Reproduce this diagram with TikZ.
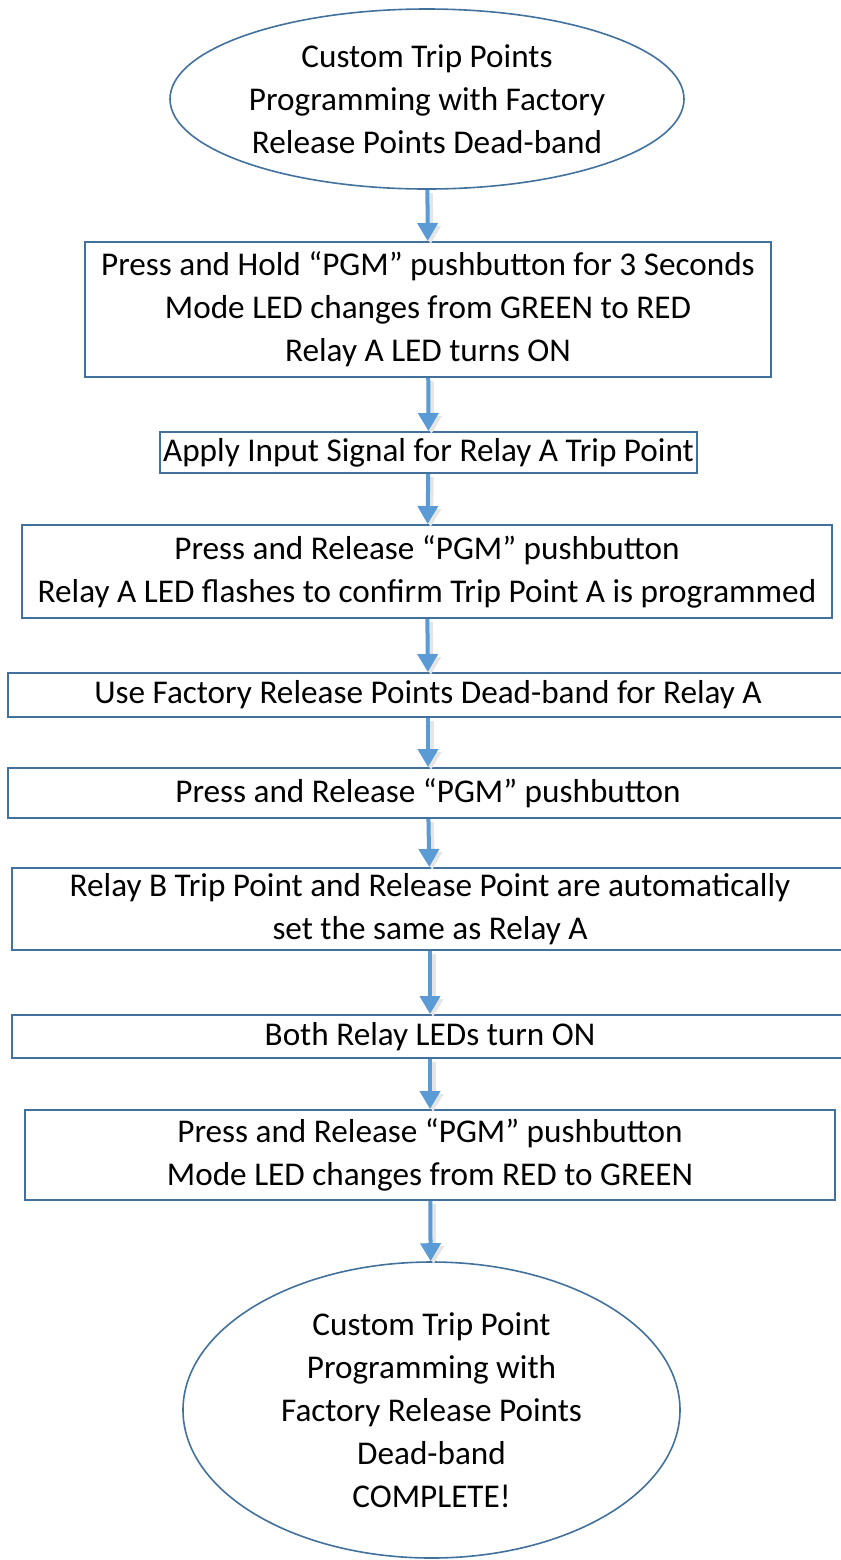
\documentclass[tikz,border=0pt]{standalone}
\usepackage{fontspec}
\setmainfont{Carlito}
\usetikzlibrary{arrows.meta,positioning,shapes.geometric}
\definecolor{boxblue}{HTML}{41719C}
\definecolor{arrowblue}{HTML}{5B9BD5}
\tikzset{
  % stepbox is used for every step of the programming flow
  stepbox/.style={draw=boxblue, line width=1pt, rectangle, inner sep=0pt, align=center},
  term/.style={draw=boxblue, line width=0.8pt, ellipse, inner sep=0pt, align=center},
  flow/.style={-{Triangle[length=9pt,width=10pt]}, draw=arrowblue, line width=2pt,
  preaction={draw=black!10, line width=2.5pt, transform canvas={xshift=1.5pt,yshift=-1.5pt}}}}

\begin{document}
\begin{tikzpicture}[x=0.5pt, y=-0.5pt, font=\fontsize{16.6}{21.5}\selectfont]

\useasboundingbox (0,0) rectangle (841,1560);

\draw (427,99) node (start) [term, minimum width=257pt, minimum height=90pt] {Custom Trip Points\\Programming with Factory\\Release Points Dead-band};

\draw (428,309.5) node (hold) [stepbox, minimum width=343pt, minimum height=67.5pt] {Press and Hold “PGM” pushbutton for 3 Seconds\\Mode LED changes from GREEN to RED\\Relay A LED turns ON};

\draw (428.5,452.5) node (input) [stepbox, minimum width=268.5pt, minimum height=20.5pt] {Apply Input Signal for Relay A Trip Point};

\draw (427,571.5) node (tripa) [stepbox, minimum width=405pt, minimum height=46.5pt] {Press and Release “PGM” pushbutton\\Relay A LED flashes to confirm Trip Point A is programmed};

\draw (428,695) node (dband) [stepbox, minimum width=420pt, minimum height=22pt] {Use Factory Release Points Dead-band for Relay A};

\draw (428,793) node (rel) [stepbox, minimum width=420pt, minimum height=25pt] {Press and Release “PGM” pushbutton};

\draw (430,909) node (relb) [stepbox, minimum width=418pt, minimum height=41pt] {Relay B Trip Point and Release Point are automatically\\set the same as Relay A};

\draw (430,1036.5) node (leds) [stepbox, minimum width=418pt, minimum height=21.5pt] {Both Relay LEDs turn ON};

\draw (430,1155) node (mode) [stepbox, minimum width=405pt, minimum height=45pt] {Press and Release “PGM” pushbutton\\Mode LED changes from RED to GREEN};

\draw (431.5,1410) node (done) [term, minimum width=248.5pt, minimum height=148pt] {Custom Trip Point\\Programming with\\Factory Release Points\\Dead-band\\COMPLETE!};

%arrows between the steps
\draw [flow] (start) -- (hold);
\draw [flow] (hold) -- (input);
\draw [flow] (input) -- (tripa);
\draw [flow] (tripa) -- (dband);
\draw [flow] (dband) -- (rel);
\draw [flow] (rel) -- (relb);
\draw [flow] (relb) -- (leds);
\draw [flow] (leds) -- (mode);
\draw [flow] (mode) -- (done);

\end{tikzpicture}
\end{document}
